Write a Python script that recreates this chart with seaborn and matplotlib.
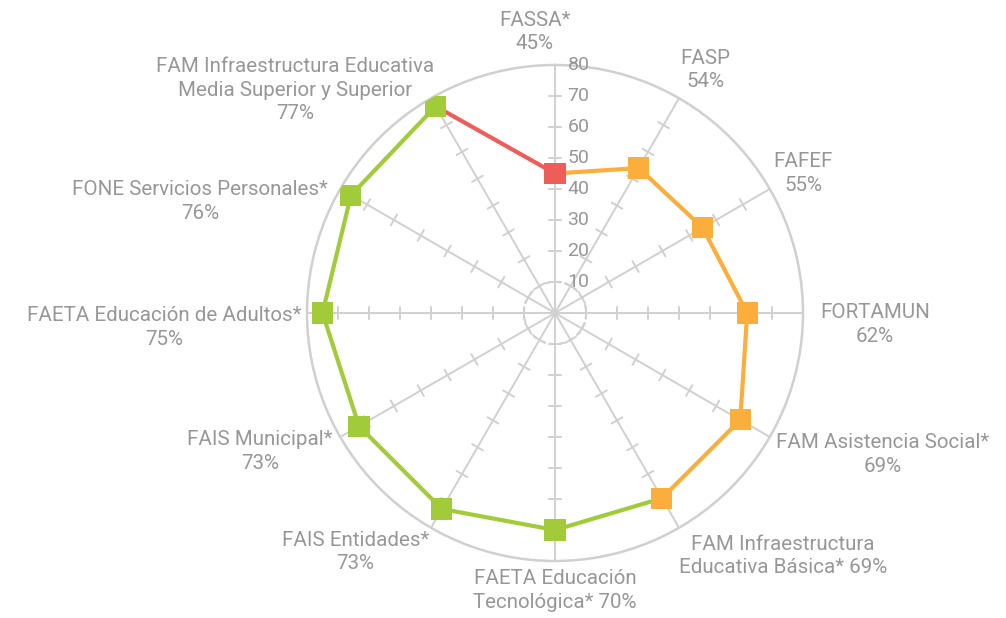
import numpy as np
import matplotlib
matplotlib.use("Agg")
import matplotlib.pyplot as plt
import seaborn as sns
import pandas as pd

# data
categories = ["FASSA*", "FASP", "FAFEF", "FORTAMUN", "FAM Asistencia Social*",
              "FAM Infraestructura\nEducativa Básica*", "FAETA Educación\nTecnológica*",
              "FAIS Entidades*", "FAIS Municipal*", "FAETA Educación de Adultos*",
              "FONE Servicios Personales*",
              "FAM Infraestructura Educativa\nMedia Superior y Superior"]
values = [45, 54, 55, 62, 69, 69, 70, 73, 73, 75, 76, 77]
groups = ["red", "orange", "orange", "orange", "orange", "orange",
          "green", "green", "green", "green", "green", "green"]
pct_sep = ["\n", "\n", "\n", "\n", "\n", " ", " ", "\n", "\n", "\n", "\n", "\n"]
rticks = [10, 20, 30, 40, 50, 60, 70, 80]

palette = {"red": "#EF5D5B", "orange": "#FBAE3B", "green": "#A2CB3A"}
grid_c = "#D0D0D0"
text_c = "#979797"

# label placement (angle deg, radius in data units)
label_pos = [(-4.1, 90.9), (31.7, 92.1), (60.6, 91.9), (92.1, 103.3),
             (113.3, 115.2), (136.8, 107.5), (180, 89.4), (219.9, 100.5),
             (244.8, 105.2), (267.9, 126.2), (287.4, 120), (310.6, 110.5)]

sns.set_style("white")
plt.rcParams["font.family"] = ["Roboto", "DejaVu Sans"]

fig = plt.figure(figsize=(10.06, 6.18), dpi=100)
cx, cy, R = 555, 618 - 313, 248
ax = fig.add_axes([(cx - R) / 1006, (cy - R) / 618, 2 * R / 1006, 2 * R / 618],
                  projection="polar")
ax.set_theta_zero_location("N")
ax.set_theta_direction(-1)
ax.set_ylim(0, 80)
ax.grid(False)
ax.set_xticks([])
ax.set_yticks([])
ax.spines["polar"].set_color(grid_c)
ax.spines["polar"].set_linewidth(1.8)

n = len(categories)
theta = np.arange(n) * 2 * np.pi / n

# spokes + tick marks
for t in theta:
    ax.plot([t, t], [0, 80], color=grid_c, lw=1.4, zorder=1)
    for r in rticks[:-1]:
        d = 2.0
        a = np.arctan(d / r)
        ax.plot([t - a, t + a], [np.hypot(r, d)] * 2, color=grid_c, lw=1.4, zorder=1)

circ = np.linspace(0, 2 * np.pi, 300)
ax.plot(circ, np.full_like(circ, 10), color=grid_c, lw=1.4, ls=(0, (3, 2)), zorder=1)

# radial labels
for r in rticks:
    ax.annotate(str(r), (0, r), xytext=(9, 0), textcoords="offset points",
                ha="left", va="center", color=text_c, fontsize=14)

# colored segments: segment ending at point j takes colour of point j
for j in range(n):
    i = (j - 1) % n
    ax.plot([theta[i], theta[j]], [values[i], values[j]],
            color=palette[groups[j]], lw=3, zorder=3, solid_capstyle="butt")

df = pd.DataFrame({"theta": theta, "value": values, "group": groups})
sns.scatterplot(data=df, x="theta", y="value", hue="group", palette=palette,
                marker="s", s=230, linewidth=0, legend=False, ax=ax, zorder=4)
ax.set_xlabel("")
ax.set_ylabel("")

# category labels
for k in range(n):
    deg, rr = label_pos[k]
    ax.text(np.deg2rad(deg), rr, f"{categories[k]}{pct_sep[k]}{values[k]}%",
            ha="center", va="center", multialignment="center", color=text_c,
            fontsize=14.8, linespacing=1.32, clip_on=False)

fig.savefig("out.png", dpi=100)
